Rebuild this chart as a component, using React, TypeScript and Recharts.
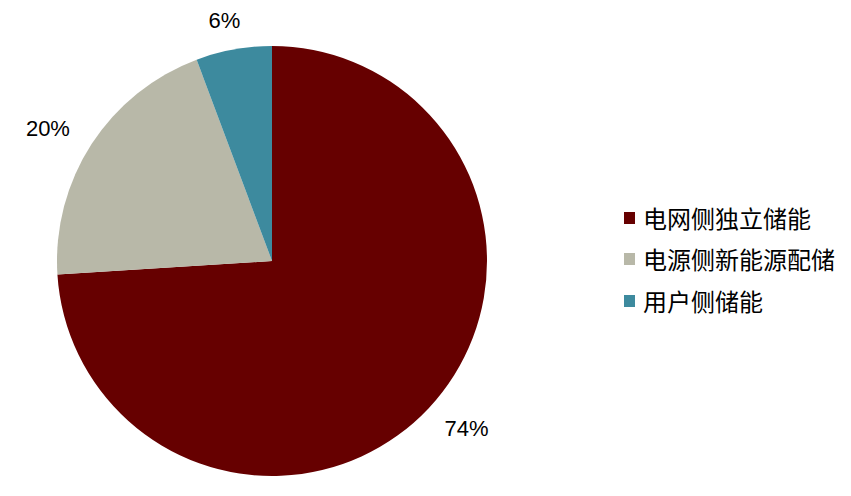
import { PieChart, Pie, Cell, Legend } from "recharts";

const categories = ["电网侧独立储能", "电源侧新能源配储", "用户侧储能"];
const shares = [74.0, 20.3, 5.7];
const colors = ["#660000", "#B8B8A8", "#3D8A9E"];

const data = categories.map((name, i) => ({ name, value: shares[i] }));

const RAD = Math.PI / 180;

// label sits outside the rim; text boxes are wider than tall, so push x further
const renderLabel = (props: any) => {
  const { cx, cy, midAngle, outerRadius, value } = props;
  const cos = Math.cos(-midAngle * RAD);
  const sin = Math.sin(-midAngle * RAD);
  const x = cx + (outerRadius + 52) * cos;
  const y = cy + (outerRadius + 29) * sin;
  return (
    <text
      x={x}
      y={y}
      textAnchor="middle"
      dominantBaseline="central"
      fill="#000"
      fontSize={22}
      fontFamily="'Liberation Sans', Arial, sans-serif"
    >
      {`${Math.round(value)}%`}
    </text>
  );
};

const LegendContent = () => (
  <div style={{ fontFamily: "'Noto Sans CJK SC', sans-serif", fontSize: 24, color: "#000" }}>
    {data.map((d, i) => (
      <div key={d.name} style={{ display: "flex", alignItems: "center", height: 41.5 }}>
        <span
          style={{
            display: "inline-block",
            width: 11,
            height: 12,
            background: colors[i],
            marginRight: 8,
          }}
        />
        <span style={{ lineHeight: "24px" }}>{d.name}</span>
      </div>
    ))}
  </div>
);

const App = () => {
  return (
    <div style={{ position: "absolute", left: 0, top: 0, background: "#fff" }}>
      <PieChart width={851} height={496} margin={{ top: 0, right: 0, bottom: 0, left: 0 }}>
        <Pie
          data={data}
          dataKey="value"
          nameKey="name"
          cx={272}
          cy={261}
          outerRadius={215}
          startAngle={90}
          endAngle={-270}
          stroke="none"
          label={renderLabel}
          labelLine={false}
          isAnimationActive={false}
        >
          {data.map((d, i) => (
            <Cell key={d.name} fill={colors[i]} />
          ))}
        </Pie>
        <Legend
          content={<LegendContent />}
          layout="vertical"
          wrapperStyle={{ left: 624, top: 197, width: 227 }}
        />
      </PieChart>
    </div>
  );
};

export default App;
